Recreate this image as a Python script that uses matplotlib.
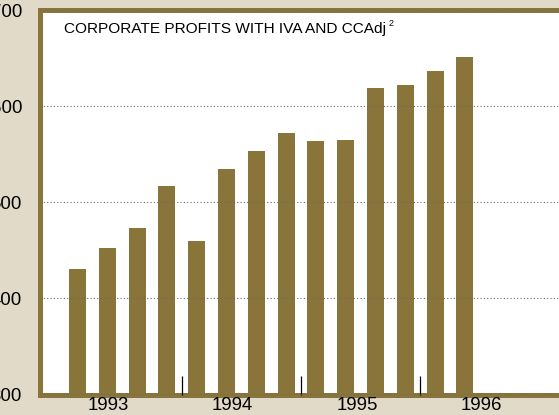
import numpy as np
import matplotlib
matplotlib.use('Agg')
import matplotlib.pyplot as plt

#####
# Corporate profits with IVA and CCAdj, quarterly bars 1993Q1 - 1996Q2

quarters = ['1993Q1', '1993Q2', '1993Q3', '1993Q4',
            '1994Q1', '1994Q2', '1994Q3', '1994Q4',
            '1995Q1', '1995Q2', '1995Q3', '1995Q4',
            '1996Q1', '1996Q2']
profits = [430.7, 452.6, 473.4, 517.2,
           459.9, 534.9, 553.6, 572.4,
           564.1, 565.1, 619.3, 622.4,
           637.0, 651.6]
years = ['1993', '1994', '1995', '1996']
yticks = [300, 400, 500, 600, 700]
title = 'CORPORATE PROFITS WITH IVA AND CCAdj'

brown = '#89753a'
beige = '#e1dac8'
W, H = 559, 415

fig = plt.figure(figsize=(W / 100, H / 100), dpi=100, facecolor=beige)
# axes runs past the right edge of the picture, like the original
ax = fig.add_axes([39.5 / W, 20.5 / H, (590 - 39.5) / W, 384 / H])
ax.set_facecolor('white')

x = np.arange(len(quarters))
ax.bar(x, profits, width=0.57, color=brown, zorder=1)

step = 29.8  # pixels per quarter
ax.set_xlim((39.5 - 77.5) / step, (590 - 77.5) / step)
ax.set_ylim(300, 700)

for s in ax.spines.values():
    s.set_color(brown)
    s.set_linewidth(3.6)

# y axis
ax.set_yticks(yticks)
ax.set_yticklabels([str(v) for v in yticks])
ax.tick_params(axis='y', length=0, pad=12.6, labelsize=13.4)
for lab in ax.get_yticklabels():
    lab.set_fontfamily(['Liberation Sans', 'DejaVu Sans'])
ax.yaxis.grid(True, linestyle=(0, (1, 2)), color='#6a6a6a', linewidth=0.8)
ax.set_axisbelow(False)

# x axis: year boundary ticks (major), year labels (minor)
n_year = len(years)
bounds = [4 * i - 0.5 for i in range(1, n_year)]
ax.set_xticks(bounds)
ax.set_xticklabels([''] * len(bounds))
ax.tick_params(axis='x', which='major', direction='in', length=14,
               width=0.9, color='black')
label_pos = [(108 - 77.5) / step, (232 - 77.5) / step,
             (357 - 77.5) / step, (481 - 77.5) / step]
ax.set_xticks(label_pos, minor=True)
ax.set_xticklabels(years, minor=True)
ax.tick_params(axis='x', which='minor', length=0, pad=2.0, labelsize=13.4)
for lab in ax.get_xticklabels(minor=True):
    lab.set_fontfamily(['Liberation Sans', 'DejaVu Sans'])

# title inside the panel (original uses a narrow face)
fig.text(63.5 / W, 1 - 33.3 / H, title, ha='left', va='baseline',
         fontsize=11.1, family=['Liberation Sans', 'DejaVu Sans'])
fig.text(389 / W, 1 - 26 / H, '2', ha='left', va='baseline',
         fontsize=6.5, family=['Liberation Sans', 'DejaVu Sans'])

plt.savefig('out.png', dpi=100, facecolor=beige)
